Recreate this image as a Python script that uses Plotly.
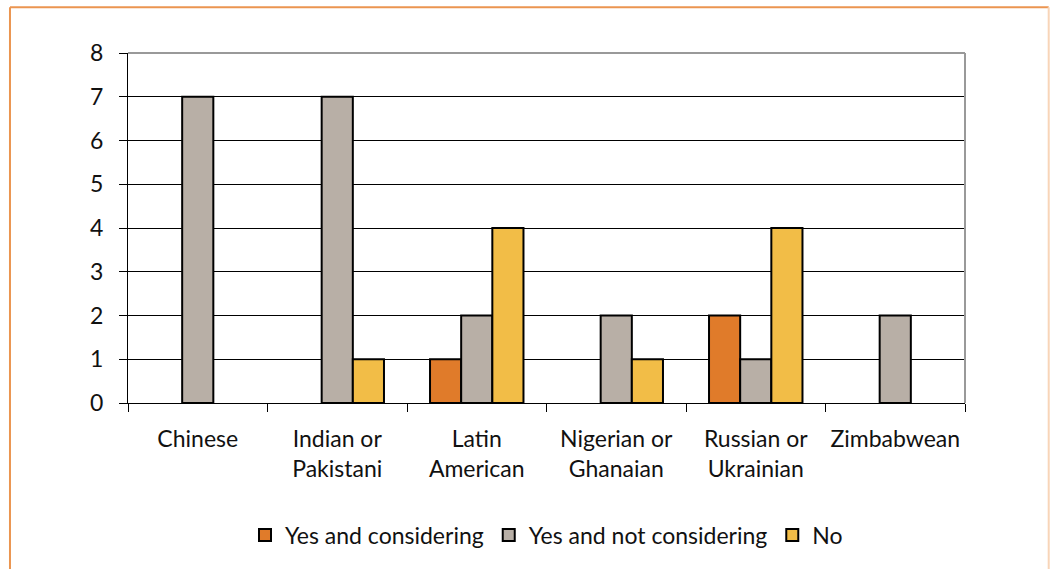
import plotly.graph_objects as go

categories = ["Chinese", "Indian or<br>Pakistani", "Latin<br>American", "Nigerian or<br>Ghanaian", "Russian or<br>Ukrainian", "Zimbabwean"]
series_names = ["Yes and considering", "Yes and not considering", "No"]
yes_considering = [0, 0, 1, 0, 2, 0]
yes_not_considering = [7, 7, 2, 2, 1, 2]
no_values = [0, 1, 4, 1, 4, 0]
y_ticks = [0, 1, 2, 3, 4, 5, 6, 7, 8]

colors = ["#E07B2A", "#B8AFA6", "#F2BD47"]
font_family = "Lato, Noto Sans, sans-serif"

fig = go.Figure()
for name, vals, col in zip(series_names, [yes_considering, yes_not_considering, no_values], colors):
    fig.add_trace(go.Bar(
        x=categories, y=[v if v else None for v in vals], name=name,
        marker=dict(color=col, line=dict(color="#000000", width=2)),
    ))

fig.update_layout(
    width=1053, height=569,
    barmode="group", bargap=0.33, bargroupgap=0,
    plot_bgcolor="white", paper_bgcolor="white",
    margin=dict(l=128, r=88, t=53, b=166),
    font=dict(family=font_family, size=23, color="#111111"),
    legend=dict(orientation="h", x=0.5, xanchor="center", y=-0.377, yanchor="middle",
                font=dict(size=23), traceorder="normal", itemwidth=30),
    showlegend=True,
    xaxis=dict(
        showline=True, linecolor="#000000", linewidth=1,
        ticks="outside", ticklen=8, tickcolor="#000000", tickson="boundaries",
        tickfont=dict(size=23), showgrid=False, ticklabelstandoff=15,
    ),
    yaxis=dict(
        range=[0, 8], tickvals=y_ticks, showline=True, linecolor="#000000", linewidth=1,
        ticks="outside", ticklen=8, tickcolor="#000000",
        showgrid=True, gridcolor="#000000", gridwidth=1, zeroline=False,
        tickfont=dict(size=23), ticklabelstandoff=11,
    ),
    shapes=[
        dict(type="line", xref="paper", yref="paper", x0=0, x1=1, y0=1, y1=1,
             line=dict(color="#999999", width=2)),
        dict(type="line", xref="paper", yref="paper", x0=1, x1=1, y0=0, y1=1,
             line=dict(color="#999999", width=2)),
        dict(type="line", xref="paper", yref="paper", x0=-0.141, x1=1.1, y0=1.131, y1=1.131,
             line=dict(color="#EB9550", width=2), layer="below"),
        dict(type="line", xref="paper", yref="paper", x0=-0.141, x1=-0.141, y0=1.131, y1=-0.6,
             line=dict(color="#EB9550", width=2), layer="below"),
        dict(type="line", xref="paper", yref="paper", x0=1.1, x1=1.1, y0=1.131, y1=-0.6,
             line=dict(color="#F8D5B8", width=2), layer="below"),
    ],
)

fig.write_html("out.html", config={"displayModeBar": False},
               post_script="document.body.style.margin='0';")
